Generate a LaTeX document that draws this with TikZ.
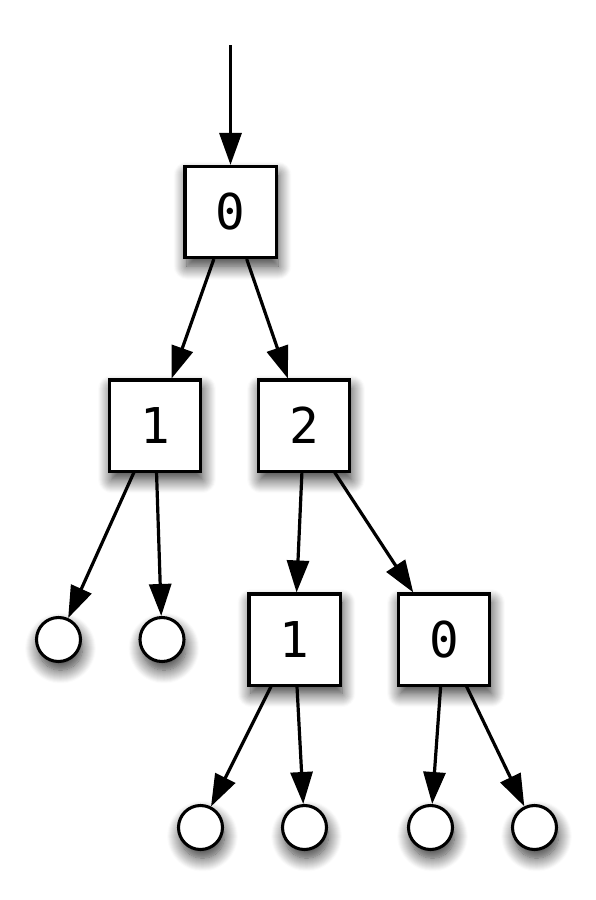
\documentclass[tikz,border=0pt]{standalone}
\usepackage{fontspec}
\setmonofont{DejaVu Sans Mono}
\usetikzlibrary{arrows.meta,shadows.blur}
\begin{document}
\begin{tikzpicture}[x=0.75pt,y=-0.75pt]
	\tikzset{
		myshadow/.style={blur shadow={shadow xshift=1.5pt, shadow yshift=-6.5pt, shadow blur radius=10pt, shadow blur steps=14, shadow opacity=80}},
		boxnode/.style={rectangle, draw=black, line width=2.3pt, fill=white, minimum size=68.3pt, inner sep=0pt, font=\fontsize{37}{40}\selectfont\ttfamily, myshadow},
		leafnode/.style={circle, draw=black, line width=2.3pt, fill=white, minimum size=33pt, inner sep=0pt, myshadow},
		myarrow/.style={-{Triangle[length=24pt,width=16.5pt]}, line width=2.4pt}
	}
	\useasboundingbox (0,0) rectangle (596,900);

	\coordinate (in) at (230.5,45);

	\node[boxnode] (n0) at (230.5,212) {0};
	\node[boxnode] (n1) at (155,425.5) {1};
	\node[boxnode] (n2) at (304,425.5) {2};
	\node[boxnode] (n21) at (294.5,639.5) {1};
	\node[boxnode] (n20) at (444,639.5) {0};

	\foreach \name/\x/\y in {l1/58.5/639.5, l2/162/639.5, l3/200.5/827.5, l4/304.5/827.5, l5/430.5/827.5, l6/534.5/827.5} {
		\node[leafnode] (\name) at (\x,\y) {};
	}

	\draw[myarrow] (in) -- (n0);
	\foreach \a/\b in {n0/n1, n0/n2, n1/l1, n1/l2, n2/n21, n2/n20, n21/l3, n21/l4, n20/l5, n20/l6} {
		\draw[myarrow] (\a) -- (\b);
	}
\end{tikzpicture}
\end{document}
